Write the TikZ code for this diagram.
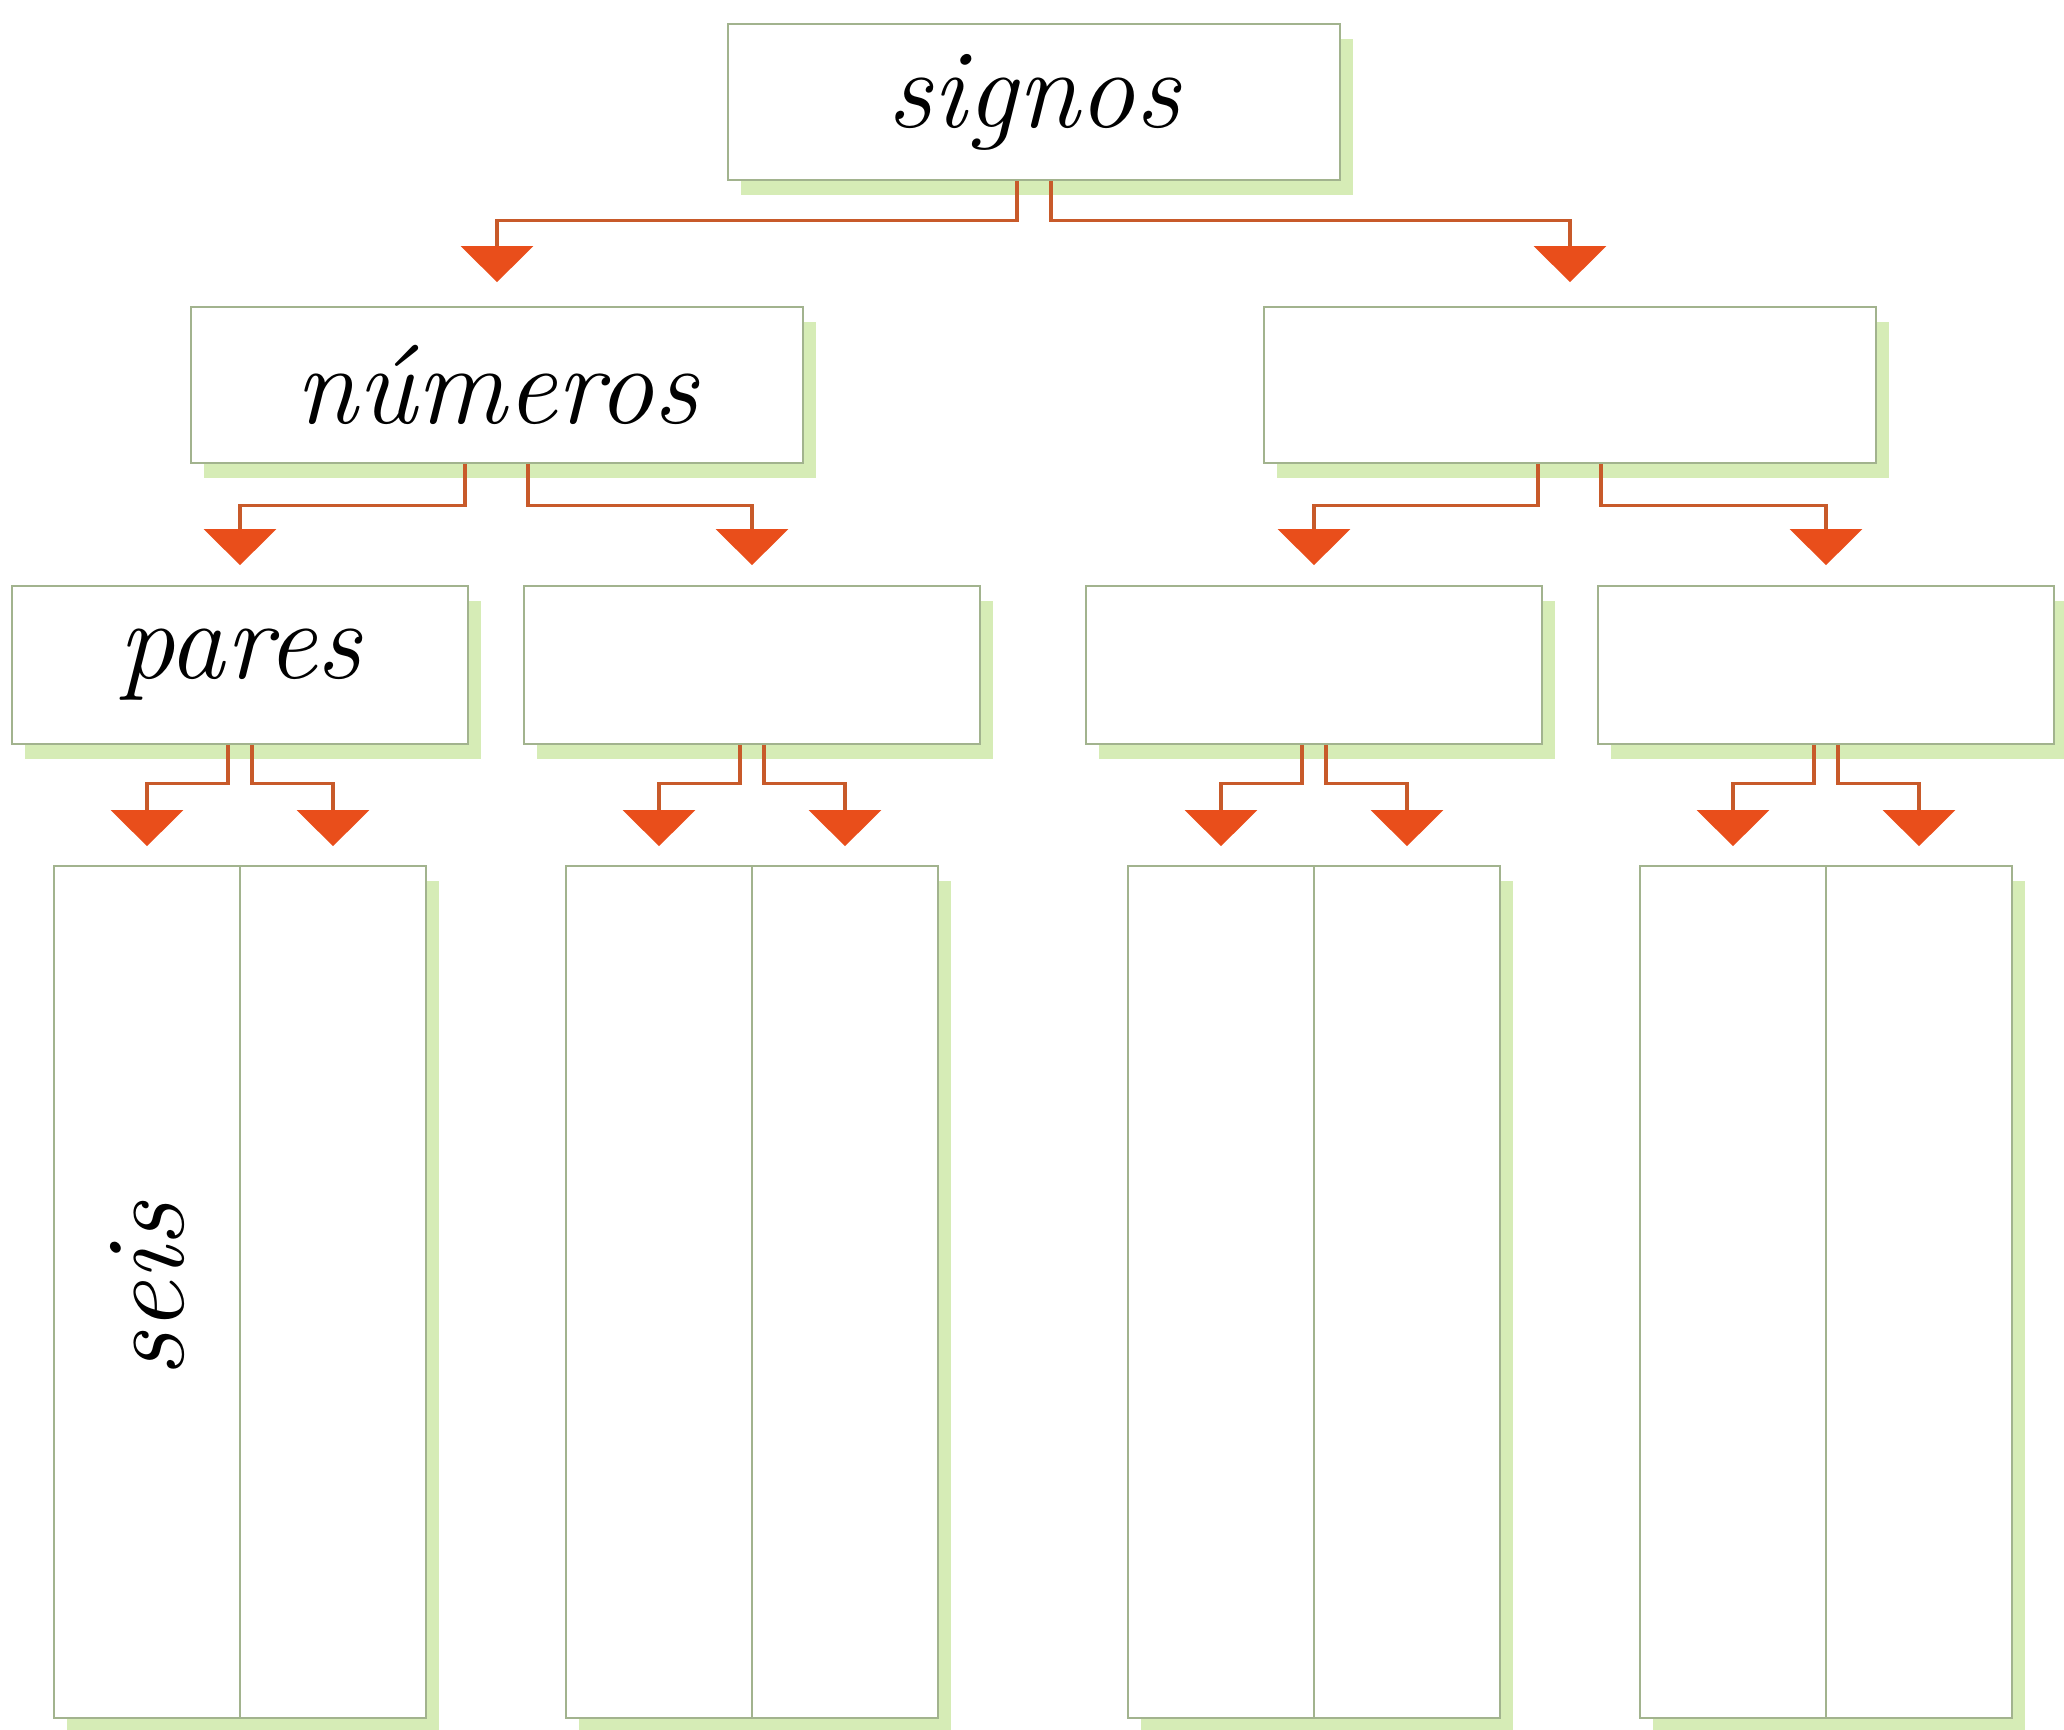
\documentclass[tikz,border=0pt]{standalone}
\usepackage{fontspec}
\usepackage{tikz}
\usetikzlibrary{arrows.meta,positioning,shadows}
\definecolor{Box_Line}{HTML}{A2B38E}
\definecolor{Shadow_Green}{HTML}{D6ECB6}
\definecolor{Link_Orange}{HTML}{C85A2A}
\definecolor{Tip_Red}{HTML}{E94E1B}

\begin{document}
\begin{tikzpicture}[>=Stealth,
    box/.style={draw=Box_Line, line width=0.5pt, fill=white, inner sep=0pt,
        drop shadow={shadow xshift=0.13cm, shadow yshift=-0.15cm, fill=Shadow_Green, opacity=1},
        font=\fontsize{32}{38}\selectfont\itshape},
    wide/.style={minimum width=6.12cm, minimum height=1.56cm},
    mid/.style={minimum width=4.56cm, minimum height=1.58cm},
    column/.style={minimum width=3.72cm, minimum height=8.52cm},
    link/.style={draw=Link_Orange, line width=0.9pt,
        -{Triangle[width=0.72cm, length=0.36cm, color=Tip_Red, fill=Tip_Red]}}]
    \useasboundingbox (0,0) rectangle (20.64,-17.29);

    % Top
    \node[box, wide] (signos) at (10.34,-1.02) {signos};

    % Second row
    \node[box, wide] (numeros) at (4.97,-3.85) {números};
    \node[box, wide] (box22) at (15.70,-3.85) {};

    % Third row
    \node[box, mid] (pares) at (2.40,-6.65) {pares};
    \node[box, mid] (box32) at (7.52,-6.65) {};
    \node[box, mid] (box33) at (13.14,-6.65) {};
    \node[box, mid] (box34) at (18.26,-6.65) {};

    % Columns
    \node[box, column] (colA) at (2.40,-12.92) {};
    \node[box, column] (colB) at (7.52,-12.92) {};
    \node[box, column] (colC) at (13.14,-12.92) {};
    \node[box, column] (colD) at (18.26,-12.92) {};
    \draw[Box_Line, line width=0.5pt] (colA.north) -- (colA.south);
    \draw[Box_Line, line width=0.5pt] (colB.north) -- (colB.south);
    \draw[Box_Line, line width=0.5pt] (colC.north) -- (colC.south);
    \draw[Box_Line, line width=0.5pt] (colD.north) -- (colD.south);
    \node[font=\fontsize{32}{38}\selectfont\itshape, rotate=90] (seis) at (1.48,-12.90) {seis};

    % Links, first level
    \draw[link] ([xshift=-1.7mm]signos.south) -- ++(0,-0.40) -| ([yshift=2.4mm]numeros.north);
    \draw[link] ([xshift=1.7mm]signos.south) -- ++(0,-0.40) -| ([yshift=2.4mm]box22.north);

    % Links, second level
    \draw[link] ([xshift=-3.2mm]numeros.south) -- ++(0,-0.42) -| ([yshift=2mm]pares.north);
    \draw[link] ([xshift=3.1mm]numeros.south) -- ++(0,-0.42) -| ([yshift=2mm]box32.north);
    \draw[link] ([xshift=-3.2mm]box22.south) -- ++(0,-0.42) -| ([yshift=2mm]box33.north);
    \draw[link] ([xshift=3.1mm]box22.south) -- ++(0,-0.42) -| ([yshift=2mm]box34.north);

    % Links, third level
    \draw[link] ([xshift=-1.2mm]pares.south) -- ++(0,-0.39) -| ([xshift=-9.3mm,yshift=1.9mm]colA.north);
    \draw[link] ([xshift=1.2mm]pares.south) -- ++(0,-0.39) -| ([xshift=9.3mm,yshift=1.9mm]colA.north);
    \draw[link] ([xshift=-1.2mm]box32.south) -- ++(0,-0.39) -| ([xshift=-9.3mm,yshift=1.9mm]colB.north);
    \draw[link] ([xshift=1.2mm]box32.south) -- ++(0,-0.39) -| ([xshift=9.3mm,yshift=1.9mm]colB.north);
    \draw[link] ([xshift=-1.2mm]box33.south) -- ++(0,-0.39) -| ([xshift=-9.3mm,yshift=1.9mm]colC.north);
    \draw[link] ([xshift=1.2mm]box33.south) -- ++(0,-0.39) -| ([xshift=9.3mm,yshift=1.9mm]colC.north);
    \draw[link] ([xshift=-1.2mm]box34.south) -- ++(0,-0.39) -| ([xshift=-9.3mm,yshift=1.9mm]colD.north);
    \draw[link] ([xshift=1.2mm]box34.south) -- ++(0,-0.39) -| ([xshift=9.3mm,yshift=1.9mm]colD.north);
\end{tikzpicture}
\end{document}
